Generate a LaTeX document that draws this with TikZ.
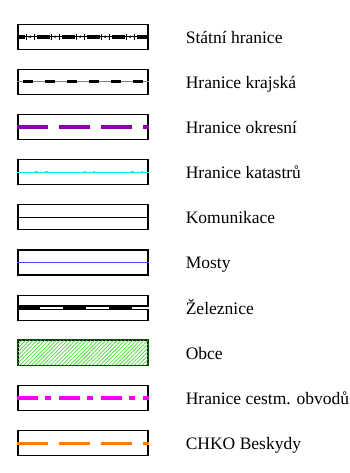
\documentclass[tikz,border=0pt]{standalone}
\usepackage{fontspec}
\setmainfont{Liberation Serif}
\definecolor{okrpurple}{RGB}{140,0,170}
\definecolor{katcyan}{RGB}{0,240,240}
\definecolor{mostblue}{RGB}{70,70,255}
\definecolor{obcegreen}{RGB}{60,220,40}
\definecolor{obceborder}{RGB}{0,80,0}
\definecolor{cestmagenta}{RGB}{245,0,245}
\definecolor{chkoorange}{RGB}{255,125,0}
\usetikzlibrary{positioning,calc,patterns.meta}

\begin{document}
\begin{tikzpicture}[x=1pt,y=-1pt,
    keybox/.style={draw,line width=1.2pt,minimum width=130pt,minimum height=25pt,inner sep=0pt},
    keytext/.style={font=\fontsize{17.5}{20}\selectfont,inner sep=0pt,text height=13pt,text depth=0pt},
    ]
    \useasboundingbox (0,0) rectangle (349,473);

    % the boxes and their texts
    \foreach \t [count=\i] in {Státní hranice,Hranice krajská,Hranice okresní,Hranice katastrů,
        Komunikace,Mosty,Železnice,Obce,Hranice cestm. obvodů,CHKO Beskydy} {
    \node[keybox] (b\i) at (83,{36.7+45.15*(\i-1)}) {};
    \node[keytext,right=37pt of b\i] (t\i) {\t};
    }

    % state border
    \draw[line width=1pt] (b1.west) -- (b1.east);
    \draw[line width=4pt,dash pattern=on 13pt off 12pt,dash phase=5.7pt] (b1.west) -- (b1.east);
    \foreach \x in {7.3,32.3,...,110} {
    \draw[line width=1pt] ($(b1.west)+(\x+1.5,-3)$) -- ($(b1.west)+(\x+1.5,3)$);
    \draw[line width=1pt] ($(b1.west)+(\x+9.5,-3)$) -- ($(b1.west)+(\x+9.5,3)$);
    \fill ($(b1.west)+(\x+5.5,0)$) circle (1.3);
    }

    % region border
    \draw[line width=1pt,gray] (b2.west) -- (b2.east);
    \draw[line width=3pt,dash pattern=on 10pt off 12pt,dash phase=16pt] (b2.west) -- (b2.east);

    % district border
    \draw[line width=3.5pt,okrpurple,dash pattern=on 31pt off 11pt] (b3.west) -- (b3.east);

    % cadastre border
    \draw[line width=1pt,katcyan] (b4.west) -- (b4.east);
    \foreach \x in {19,29,67.3,76.6,115,124.6}
    \fill[katcyan] ($(b4.west)+(\x,0)$) ++(-1.2,-1.2) rectangle ++(2.4,2.4);

    % roads
    \draw[line width=1pt] (b5.west) -- (b5.east);

    % bridges
    \draw[line width=1.5pt,mostblue] (b6.west) -- (b6.east);

    % railway
    \draw[line width=5pt] (b7.west) -- (b7.east);
    \draw[line width=2pt,white,dash pattern=on 23pt off 23pt,dash phase=23pt] (b7.west) -- (b7.east);

    % villages
    \fill[pattern={Lines[angle=45,distance=2.7pt,line width=0.7pt]},pattern color=obcegreen]
    (b8.south west) rectangle (b8.north east);
    \draw[line width=1.2pt,obceborder] (b8.south west) rectangle (b8.north east);

    % road maintenance districts
    \draw[line width=3.5pt,cestmagenta,dash pattern=on 21pt off 7pt on 6pt off 8pt] (b9.west) -- (b9.east);

    % protected landscape area
    \draw[line width=3pt,chkoorange,dash pattern=on 31pt off 11pt] (b10.west) -- (b10.east);
\end{tikzpicture}
\end{document}
